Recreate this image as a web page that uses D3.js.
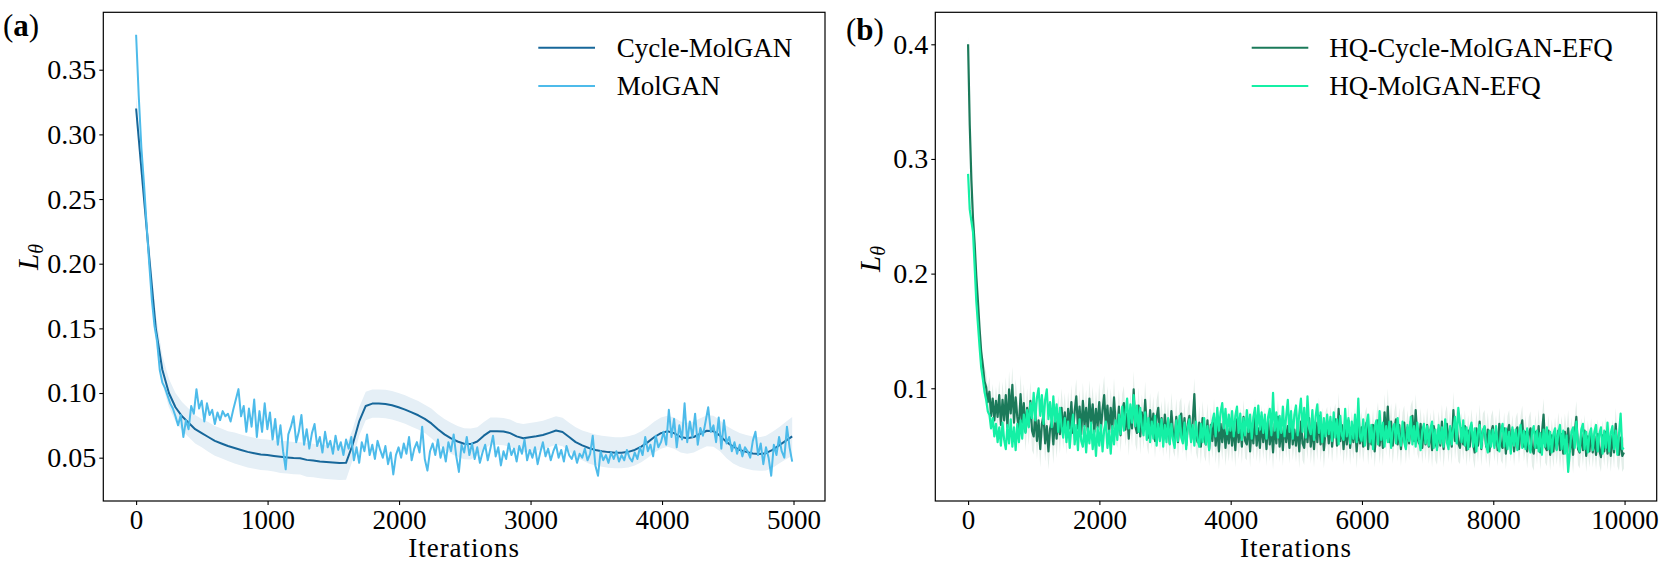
<!DOCTYPE html>
<html><head><meta charset="utf-8">
<script src="https://cdn.jsdelivr.net/npm/d3@7"></script>
<style>
body{margin:0;background:#fff}
svg text{font-family:"Liberation Serif","Times New Roman",serif;fill:#000}
</style></head><body>
<svg id="chart" width="1661" height="569"></svg>
<script>
// ---------- Panel (a) data ----------
const aSeriesNames = ["Cycle-MolGAN", "MolGAN"];
const aXTicks = [0, 1000, 2000, 3000, 4000, 5000];
const aYTicks = [0.05, 0.10, 0.15, 0.20, 0.25, 0.30, 0.35];
const aLastIter = 4990;
// Cycle-MolGAN mean (101 points, 0..4990)
const cycleMolGAN = [
0.320,0.262,0.205,0.150,0.118,0.100,0.089,0.082,0.077,0.072,
0.069,0.066,0.063,0.061,0.059,0.0575,0.056,0.0545,0.0535,0.0525,
0.052,0.0513,0.0507,0.0502,0.0497,0.0495,0.0483,0.0478,0.0470,0.0466,
0.0462,0.0458,0.0460,0.0600,0.0780,0.0900,0.0918,0.0918,0.0915,0.0905,
0.0890,0.0872,0.0850,0.0828,0.0800,0.0765,0.0720,0.0680,0.0650,0.0625,
0.0608,0.0605,0.0625,0.0670,0.0705,0.0705,0.0702,0.0690,0.0665,0.0650,
0.0658,0.0665,0.0675,0.0692,0.0710,0.0698,0.0660,0.0620,0.0595,0.0575,
0.0560,0.0550,0.0543,0.0538,0.0538,0.0545,0.0560,0.0585,0.0620,0.0660,
0.0690,0.0705,0.0690,0.0660,0.0650,0.0660,0.0685,0.0708,0.0705,0.0670,
0.0620,0.0585,0.0560,0.0545,0.0533,0.0528,0.0535,0.0560,0.0595,0.0630,
0.0665];
// Cycle-MolGAN spread (one per mean point)
const cycleMolGANStd = [
0.010,0.010,0.011,0.011,0.011,0.011,0.011,
0.011,0.011,0.011,0.011,0.0115,0.0115,0.0115,0.0115,0.012,0.012,0.012,0.012,0.012,0.012,
0.012,0.0125,0.0125,0.0125,0.0125,0.013,0.013,0.013,0.013,0.013,0.013,0.013,
0.012,0.011,0.011,0.011,0.011,0.011,0.011,0.011,0.011,0.011,0.011,0.011,0.0115,0.0115,0.012,0.012,0.012,0.012,
0.012,0.011,0.0105,0.0105,0.0105,0.0105,0.0105,0.0105,0.011,0.011,0.011,0.011,0.011,0.011,0.011,0.011,0.0115,0.0115,0.012,0.012,
0.012,0.012,0.012,0.012,0.012,0.012,0.012,0.012,0.012,0.012,0.012,0.012,0.012,0.012,0.012,0.012,0.012,0.012,0.012,0.0125,
0.013,0.013,0.013,0.013,0.013,0.0135,0.014,0.014,0.0145,0.015];
// MolGAN (251 points, 0..4990)
const molGAN = [
0.377,0.330,0.290,0.262,0.230,0.200,0.172,0.152,0.140,0.118,
0.108,0.104,0.098,0.092,0.088,0.082,0.075,0.083,0.066,0.079,
0.072,0.090,0.084,0.103,0.088,0.094,0.078,0.092,0.083,0.087,
0.076,0.085,0.079,0.086,0.082,0.084,0.078,0.087,0.095,0.103,
0.082,0.090,0.070,0.088,0.074,0.095,0.066,0.086,0.070,0.092,
0.072,0.085,0.064,0.080,0.060,0.075,0.055,0.041,0.068,0.074,
0.082,0.062,0.070,0.083,0.060,0.072,0.057,0.069,0.076,0.059,
0.066,0.054,0.070,0.058,0.063,0.053,0.067,0.056,0.062,0.052,
0.064,0.057,0.066,0.048,0.058,0.046,0.062,0.055,0.068,0.052,
0.060,0.049,0.063,0.056,0.050,0.059,0.045,0.054,0.037,0.052,
0.058,0.050,0.061,0.053,0.066,0.048,0.057,0.062,0.054,0.074,
0.049,0.040,0.055,0.061,0.052,0.064,0.050,0.058,0.047,0.062,
0.055,0.068,0.051,0.039,0.060,0.054,0.066,0.052,0.061,0.049,
0.058,0.046,0.054,0.060,0.048,0.057,0.067,0.051,0.058,0.044,
0.055,0.049,0.061,0.052,0.057,0.047,0.059,0.053,0.064,0.048,
0.056,0.050,0.058,0.045,0.054,0.062,0.051,0.057,0.048,0.055,
0.060,0.050,0.056,0.047,0.059,0.052,0.049,0.055,0.046,0.053,
0.050,0.057,0.048,0.053,0.067,0.044,0.036,0.055,0.048,0.052,
0.046,0.054,0.049,0.055,0.047,0.052,0.048,0.056,0.050,0.047,
0.054,0.049,0.058,0.052,0.066,0.055,0.060,0.051,0.067,0.058,
0.062,0.070,0.060,0.087,0.066,0.080,0.058,0.075,0.064,0.092,
0.062,0.078,0.066,0.084,0.060,0.073,0.067,0.078,0.089,0.070,
0.075,0.062,0.081,0.057,0.079,0.061,0.066,0.055,0.062,0.053,
0.060,0.051,0.058,0.055,0.050,0.063,0.070,0.052,0.061,0.045,
0.058,0.050,0.036,0.060,0.052,0.066,0.055,0.050,0.074,0.058,
0.047];

// ---------- Panel (b) data ----------
const bSeriesNames = ["HQ-Cycle-MolGAN-EFQ", "HQ-MolGAN-EFQ"];
const bXTicks = [0, 2000, 4000, 6000, 8000, 10000];
const bYTicks = [0.1, 0.2, 0.3, 0.4];
const bLastIter = 9990;
// HQ-Cycle-MolGAN-EFQ (401 points, 0..9990)
const hqCycle = [
0.400,0.330,0.282,0.248,0.226,0.198,0.176,0.152,0.132,0.120,0.106,0.101,0.088,0.097,0.076,0.091,0.072,0.089,0.075,0.094,
0.068,0.090,0.072,0.094,0.066,0.099,0.078,0.103,0.070,0.092,0.075,0.064,0.095,0.070,0.087,0.062,0.083,0.067,0.089,0.063,
0.058,0.078,0.054,0.072,0.047,0.069,0.076,0.052,0.067,0.045,0.065,0.071,0.051,0.074,0.056,0.077,0.060,0.083,0.064,0.079,
0.057,0.082,0.065,0.088,0.061,0.080,0.093,0.065,0.084,0.060,0.089,0.067,0.083,0.063,0.091,0.069,0.086,0.062,0.082,0.066,
0.088,0.064,0.081,0.094,0.067,0.085,0.061,0.083,0.065,0.092,0.069,0.063,0.084,0.059,0.080,0.087,0.064,0.078,0.056,0.082,
0.065,0.099,0.067,0.061,0.085,0.058,0.079,0.063,0.090,0.066,0.057,0.081,0.062,0.078,0.054,0.075,0.083,0.059,0.074,0.055,
0.077,0.058,0.073,0.052,0.080,0.061,0.056,0.075,0.053,0.072,0.078,0.057,0.074,0.050,0.069,0.076,0.055,0.071,0.095,0.058,
0.053,0.070,0.049,0.074,0.056,0.051,0.072,0.047,0.068,0.054,0.075,0.050,0.067,0.045,0.069,0.053,0.071,0.048,0.065,0.052,
0.069,0.050,0.066,0.046,0.073,0.053,0.068,0.049,0.075,0.054,0.051,0.070,0.045,0.067,0.052,0.077,0.050,0.065,0.048,0.071,
0.053,0.068,0.047,0.072,0.051,0.066,0.044,0.069,0.052,0.075,0.049,0.065,0.046,0.071,0.053,0.067,0.048,0.073,0.051,0.064,
0.050,0.067,0.045,0.071,0.052,0.048,0.069,0.053,0.074,0.049,0.065,0.047,0.070,0.053,0.076,0.051,0.067,0.046,0.063,0.068,
0.052,0.071,0.049,0.065,0.073,0.050,0.082,0.054,0.068,0.047,0.066,0.051,0.072,0.048,0.065,0.053,0.069,0.045,0.067,0.052,
0.066,0.049,0.064,0.070,0.047,0.065,0.051,0.068,0.045,0.063,0.072,0.050,0.066,0.048,0.079,0.057,0.084,0.053,0.071,0.050,
0.065,0.073,0.051,0.068,0.047,0.064,0.070,0.049,0.066,0.052,0.071,0.076,0.054,0.081,0.057,0.052,0.069,0.048,0.065,0.051,
0.068,0.049,0.064,0.046,0.067,0.052,0.048,0.065,0.050,0.071,0.047,0.063,0.069,0.051,0.066,0.049,0.081,0.054,0.068,0.052,
0.048,0.065,0.051,0.067,0.046,0.063,0.049,0.068,0.052,0.044,0.065,0.050,0.071,0.047,0.063,0.066,0.049,0.064,0.045,0.061,
0.067,0.050,0.063,0.046,0.069,0.051,0.048,0.065,0.043,0.062,0.068,0.049,0.064,0.045,0.061,0.066,0.047,0.063,0.072,0.049,
0.062,0.045,0.060,0.065,0.047,0.043,0.062,0.048,0.067,0.044,0.060,0.077,0.049,0.046,0.063,0.042,0.059,0.045,0.061,0.047,
0.063,0.046,0.060,0.043,0.062,0.048,0.065,0.045,0.059,0.042,0.061,0.075,0.047,0.044,0.060,0.046,0.063,0.041,0.058,0.045,
0.061,0.044,0.058,0.042,0.060,0.046,0.040,0.059,0.045,0.062,0.043,0.057,0.041,0.059,0.044,0.069,0.046,0.042,0.057,0.041,
0.044];
// spread of HQ-Cycle-MolGAN-EFQ, one value per 250 iterations
const hqCycleStd = [
0.008,0.013,0.016,0.017,0.016,0.017,0.015,0.016,0.017,0.015,
0.016,0.015,0.016,0.014,0.015,0.016,0.015,0.014,0.015,0.014,
0.015,0.016,0.014,0.015,0.014,0.016,0.015,0.014,0.015,0.016,
0.014,0.015,0.014,0.013,0.015,0.014,0.016,0.014,0.013,0.014,
0.014];
// HQ-MolGAN-EFQ (401 points, 0..9990)
const hqMolGAN = [
0.287,0.256,0.246,0.236,0.206,0.176,0.156,0.136,0.118,0.108,0.097,0.090,0.080,0.077,0.065,0.074,0.058,0.069,0.053,0.066,
0.050,0.070,0.055,0.047,0.068,0.052,0.073,0.049,0.066,0.046,0.069,0.053,0.072,0.056,0.077,0.061,0.081,0.066,0.087,0.074,
0.096,0.072,0.092,0.100,0.076,0.094,0.069,0.090,0.099,0.073,0.088,0.066,0.093,0.071,0.086,0.062,0.083,0.066,0.057,0.074,
0.053,0.071,0.048,0.066,0.077,0.051,0.068,0.046,0.073,0.054,0.049,0.067,0.044,0.065,0.052,0.070,0.047,0.063,0.041,0.066,
0.050,0.068,0.045,0.064,0.071,0.048,0.063,0.043,0.067,0.051,0.072,0.055,0.077,0.060,0.084,0.063,0.079,0.091,0.065,0.086,
0.070,0.094,0.067,0.085,0.062,0.083,0.066,0.059,0.079,0.055,0.074,0.053,0.071,0.056,0.076,0.050,0.069,0.054,0.073,0.049,
0.068,0.053,0.074,0.051,0.069,0.055,0.048,0.072,0.054,0.076,0.057,0.052,0.070,0.047,0.066,0.073,0.053,0.068,0.050,0.071,
0.055,0.049,0.069,0.053,0.074,0.051,0.067,0.046,0.065,0.071,0.078,0.058,0.083,0.063,0.079,0.087,0.065,0.082,0.060,0.077,
0.063,0.080,0.058,0.076,0.084,0.061,0.078,0.055,0.074,0.059,0.081,0.062,0.077,0.056,0.075,0.083,0.060,0.085,0.064,0.079,
0.061,0.077,0.056,0.075,0.082,0.059,0.096,0.063,0.079,0.057,0.076,0.061,0.084,0.058,0.075,0.090,0.062,0.080,0.056,0.077,
0.085,0.059,0.078,0.091,0.062,0.083,0.057,0.093,0.065,0.060,0.081,0.055,0.076,0.086,0.061,0.079,0.053,0.074,0.058,0.077,
0.060,0.075,0.054,0.079,0.057,0.073,0.051,0.076,0.059,0.055,0.082,0.058,0.074,0.052,0.071,0.056,0.077,0.053,0.091,0.058,
0.054,0.073,0.050,0.069,0.077,0.053,0.068,0.047,0.066,0.072,0.051,0.080,0.055,0.070,0.049,0.067,0.053,0.071,0.048,0.065,
0.069,0.052,0.074,0.056,0.050,0.071,0.053,0.047,0.068,0.054,0.075,0.051,0.067,0.049,0.070,0.055,0.046,0.063,0.069,0.052,
0.067,0.050,0.065,0.071,0.048,0.064,0.046,0.068,0.052,0.066,0.049,0.073,0.053,0.047,0.067,0.051,0.065,0.075,0.052,0.083,
0.069,0.053,0.072,0.050,0.066,0.047,0.064,0.070,0.049,0.065,0.045,0.062,0.068,0.048,0.063,0.067,0.050,0.044,0.063,0.049,
0.064,0.048,0.067,0.051,0.045,0.063,0.069,0.049,0.065,0.047,0.062,0.043,0.066,0.050,0.064,0.046,0.061,0.068,0.048,0.063,
0.047,0.065,0.050,0.044,0.062,0.067,0.048,0.063,0.045,0.061,0.042,0.064,0.049,0.066,0.047,0.062,0.044,0.060,0.065,0.046,
0.061,0.068,0.047,0.063,0.043,0.059,0.027,0.045,0.062,0.066,0.048,0.071,0.050,0.045,0.064,0.069,0.047,0.062,0.044,0.060,
0.065,0.046,0.062,0.068,0.045,0.060,0.066,0.043,0.063,0.048,0.070,0.045,0.061,0.067,0.047,0.063,0.042,0.060,0.078,0.047,
0.048];

// ---------- drawing ----------
const svg = d3.select("#chart");
const FONT = '"Liberation Serif","Times New Roman",serif';

function drawPanel(p) {
  const x = d3.scaleLinear().domain(p.xDomain).range([p.left, p.right]);
  const y = d3.scaleLinear().domain(p.yDomain).range([p.bottom, p.top]);
  const g = svg.append("g");
  const clipId = "clip" + p.id;
  g.append("clipPath").attr("id", clipId).append("rect")
    .attr("x", p.left).attr("y", p.top).attr("width", p.right - p.left).attr("height", p.bottom - p.top);
  const plot = g.append("g").attr("clip-path", `url(#${clipId})`);

  // band
  const b = p.band;
  const bStep = p.lastIter / (b.values.length - 1);
  plot.append("path").datum(b.values)
    .attr("fill", b.color).attr("stroke", "none")
    .attr("d", d3.area()
      .x((d, i) => x(i * bStep))
      .y0((d, i) => y(d - b.std(i)))
      .y1((d, i) => y(d + b.std(i))));

  // lines
  p.series.forEach(s => {
    const step = p.lastIter / (s.values.length - 1);
    plot.append("path").datum(s.values)
      .attr("fill", "none").attr("stroke", s.color).attr("stroke-width", p.lw)
      .attr("stroke-linejoin", "round")
      .attr("d", d3.line().x((d, i) => x(i * step)).y(d => y(d)));
  });

  // axes
  const xa = g.append("g").attr("transform", `translate(0,${p.bottom})`)
    .call(d3.axisBottom(x).tickValues(p.xTicks).tickSize(4).tickFormat(d3.format("d")));
  xa.select(".domain").remove();
  xa.selectAll("line").attr("stroke", "#000").attr("stroke-width", 1.1);
  xa.selectAll("text").attr("y", 28).attr("dy", 0)
    .attr("font-family", FONT).attr("font-size", 27).attr("fill", "#000");

  const ya = g.append("g").attr("transform", `translate(${p.left},0)`)
    .call(d3.axisLeft(y).tickValues(p.yTicks).tickSize(4).tickPadding(3).tickFormat(d3.format(p.yFmt)));
  ya.select(".domain").remove();
  ya.selectAll("line").attr("stroke", "#000").attr("stroke-width", 1.1);
  ya.selectAll("text").attr("font-family", FONT).attr("font-size", 28).attr("fill", "#000");

  // frame
  g.append("rect").attr("x", p.left).attr("y", p.top)
    .attr("width", p.right - p.left).attr("height", p.bottom - p.top)
    .attr("fill", "none").attr("stroke", "#000").attr("stroke-width", 1.2);

  // legend
  p.series.forEach((s, i) => {
    const ly = p.legend.y0 + i * p.legend.dy;
    g.append("line").attr("x1", p.legend.x1).attr("x2", p.legend.x2)
      .attr("y1", ly).attr("y2", ly).attr("stroke", s.color).attr("stroke-width", 2);
    g.append("text").attr("x", p.legend.tx).attr("y", ly + 9)
      .attr("font-size", 27).text(s.name);
  });

  // x label
  g.append("text").attr("x", (p.left + p.right) / 2).attr("y", 557)
    .attr("text-anchor", "middle").attr("font-size", 27).attr("letter-spacing", 1).text("Iterations");

  // y label L_theta
  const yl = g.append("text").attr("transform", `translate(${p.ylabX},${p.ylabY}) rotate(-90)`)
    .attr("text-anchor", "middle").attr("font-size", 29);
  yl.append("tspan").attr("font-style", "italic").text("L");
  yl.append("tspan").attr("font-style", "italic").attr("font-size", 20).attr("dy", 5).text("θ");

  // panel tag
  const tg = g.append("text").attr("x", p.tagX).attr("y", p.tagY).attr("font-size", 31);
  tg.append("tspan").text("(");
  tg.append("tspan").attr("font-weight", "bold").text(p.tag);
  tg.append("tspan").text(")");
}

drawPanel({
  id: "a", left: 103.3, right: 825, top: 12.3, bottom: 501,
  xDomain: [-249.5, 5239.5], yDomain: [0.0165, 0.3944], lastIter: aLastIter, lw: 2,
  xTicks: aXTicks, yTicks: aYTicks, yFmt: ".2f",
  band: { values: cycleMolGAN, std: i => cycleMolGANStd[i], color: "#e5eff6" },
  series: [
    { name: aSeriesNames[0], values: cycleMolGAN, color: "#17679a" },
    { name: aSeriesNames[1], values: molGAN, color: "#4dbbea" }
  ],
  legend: { x1: 538.3, x2: 595, tx: 616.7, y0: 47.7, dy: 38.3 },
  ylabX: 38, ylabY: 257, tag: "a", tagX: 3, tagY: 36
});

drawPanel({
  id: "b", left: 935.3, right: 1656.7, top: 12.3, bottom: 501,
  xDomain: [-499.5, 10489.5], yDomain: [0.0017, 0.4279], lastIter: bLastIter, lw: 2.2,
  xTicks: bXTicks, yTicks: bYTicks, yFmt: ".1f",
  band: { values: hqCycle, std: i => hqCycleStd[Math.min(hqCycleStd.length - 1, Math.floor(i / 10))], color: "#e3eee9" },
  series: [
    { name: bSeriesNames[0], values: hqCycle, color: "#1b7a5a" },
    { name: bSeriesNames[1], values: hqMolGAN, color: "#14f0a5" }
  ],
  legend: { x1: 1251.7, x2: 1308.3, tx: 1329.3, y0: 47.7, dy: 38.3 },
  ylabX: 880, ylabY: 259, tag: "b", tagX: 846, tagY: 40
});
</script></body></html>
